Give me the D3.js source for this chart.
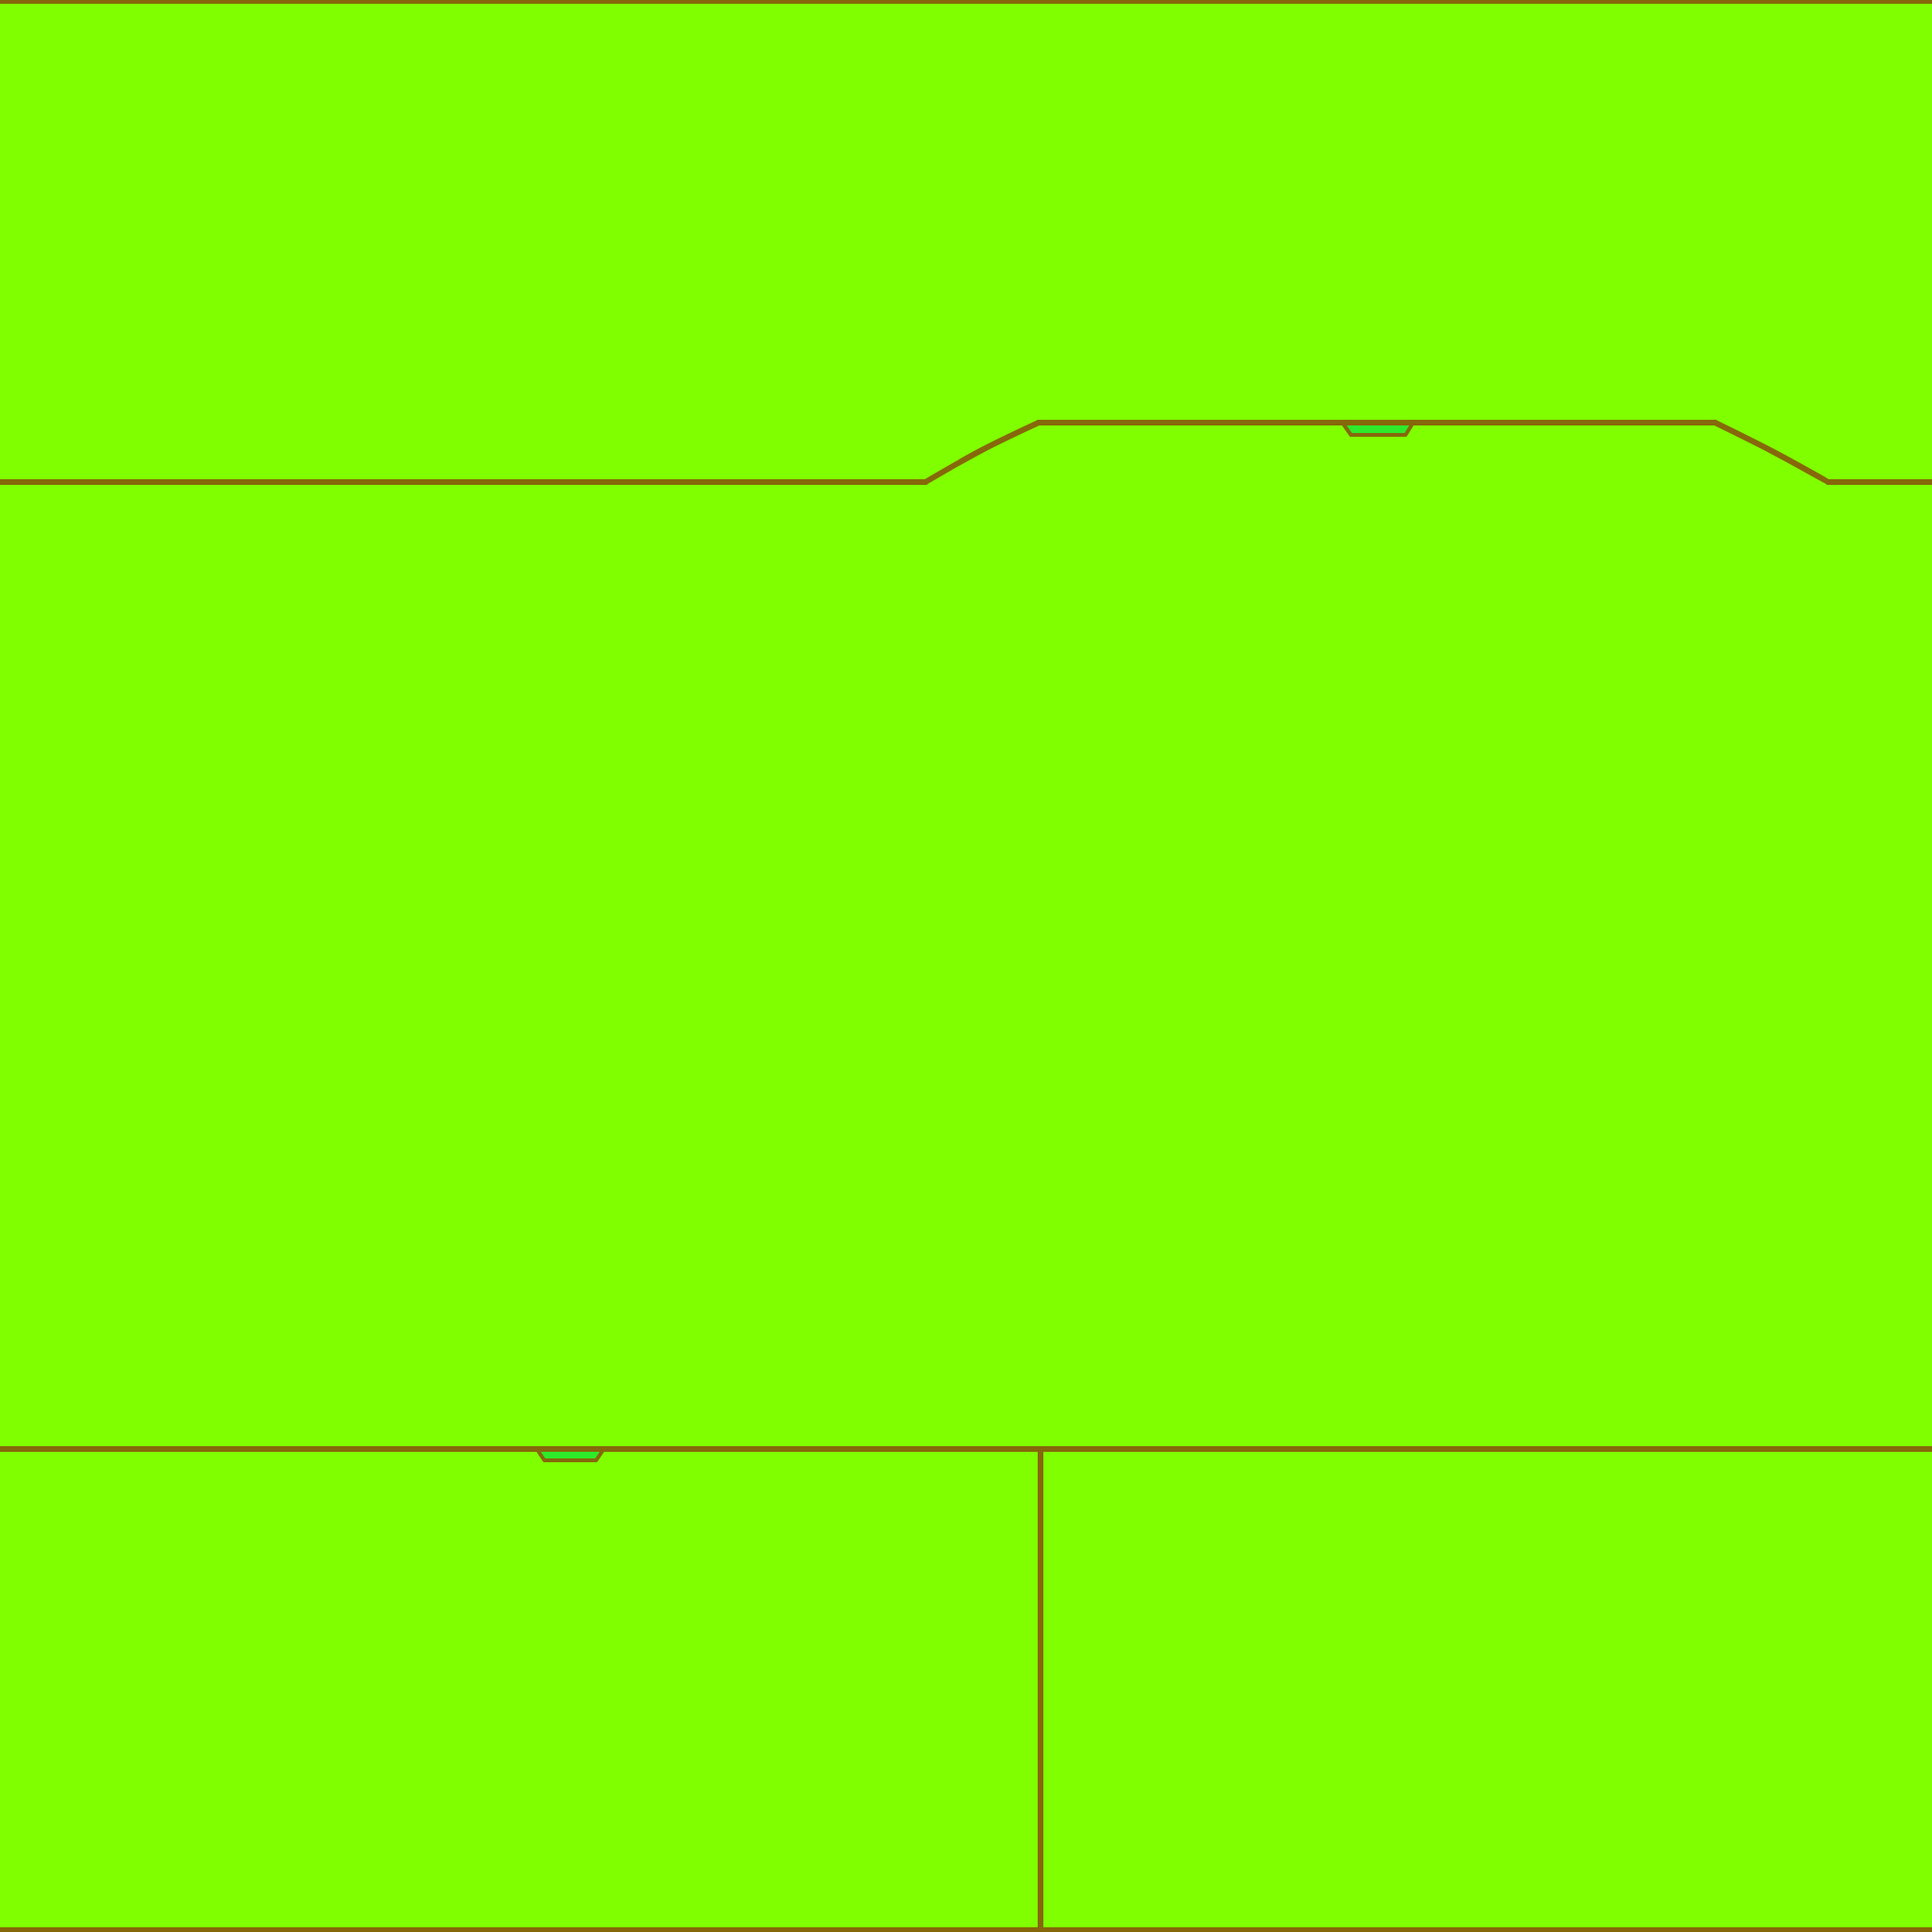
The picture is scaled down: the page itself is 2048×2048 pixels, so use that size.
<!DOCTYPE html>
<html>
<head>
<meta charset="utf-8">
<script src="https://cdn.jsdelivr.net/npm/d3@7"></script>
<style>
  html, body { margin: 0; padding: 0; background: #80ff00; }
  svg { display: block; }
</style>
</head>
<body>
<div id="sheet"></div>
<script>
// texture layout in pixel units of a 2048 sheet
const flatLeftX = [0, 981];
const flatLeftY = [511, 511];
const slopeLeftX = [981, 1041, 1101];
const slopeLeftY = [511, 477, 448];
const flatMidX = [1101, 1818];
const flatMidY = [448, 448];
const slopeRightX = [1818, 1878, 1938];
const slopeRightY = [448, 478, 511];
const flatRightX = [1938, 2048];
const flatRightY = [511, 511];

const topNotchX = [1423, 1432, 1490, 1498];
const topNotchY = [448, 461, 461, 448];

const lowerSeamX = [0, 2048];
const lowerSeamY = [1536, 1536];

const lowNotchX = [569, 577, 632, 640];
const lowNotchY = [1536, 1548, 1548, 1536];

const dividerX = [1103, 1103];
const dividerY = [1536, 2048];

const edgeTopY = 1;
const edgeBottomY = 2046;

const w = 2048;
const h = 2048;

const xScale = d3.scaleLinear().domain([0, 2048]).range([0, w]);
const yScale = d3.scaleLinear().domain([0, 2048]).range([0, h]);

const svg = d3.select("#sheet")
  .append("svg")
  .attr("width", w)
  .attr("height", h);

svg.append("rect")
  .attr("width", w)
  .attr("height", h)
  .attr("fill", "#80ff00");

const line = d3.line()
  .x(d => xScale(d[0]))
  .y(d => yScale(d[1]));

const curve = d3.line()
  .x(d => xScale(d[0]))
  .y(d => yScale(d[1]))
  .curve(d3.curveNatural);

const zipPts = (xs, ys) => xs.map((x, i) => [x, ys[i]]);

const seamColor = "#86680a";

// notch fills first, so seams draw over them
[zipPts(topNotchX, topNotchY), zipPts(lowNotchX, lowNotchY)].forEach(pts => {
  svg.append("path")
    .attr("d", line(pts) + "Z")
    .attr("fill", "#2eea2a")
    .attr("stroke", seamColor)
    .attr("stroke-width", 4)
    .attr("stroke-linejoin", "round");
});

const seams = [
  zipPts(flatLeftX, flatLeftY),
  zipPts(flatMidX, flatMidY),
  zipPts(flatRightX, flatRightY),
  zipPts(lowerSeamX, lowerSeamY),
  zipPts(dividerX, dividerY),
  [[0, edgeTopY], [2048, edgeTopY]],
  [[0, edgeBottomY], [2048, edgeBottomY]]
];

svg.selectAll(".seam")
  .data(seams)
  .enter()
  .append("path")
  .attr("class", "seam")
  .attr("d", d => line(d))
  .attr("fill", "none")
  .attr("stroke", seamColor)
  .attr("stroke-width", 6)
  .attr("stroke-linecap", "round");

svg.selectAll(".slope")
  .data([zipPts(slopeLeftX, slopeLeftY), zipPts(slopeRightX, slopeRightY)])
  .enter()
  .append("path")
  .attr("class", "slope")
  .attr("d", d => curve(d))
  .attr("fill", "none")
  .attr("stroke", seamColor)
  .attr("stroke-width", 6)
  .attr("stroke-linecap", "round");
</script>
</body>
</html>
